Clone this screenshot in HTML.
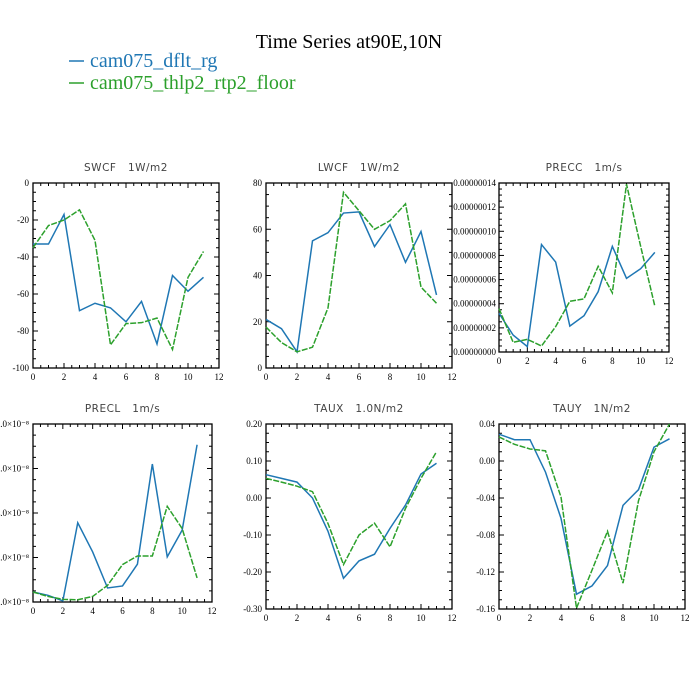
<!DOCTYPE html>
<html><head><meta charset="utf-8"><style>
html,body{margin:0;padding:0;background:#fff;}
svg{display:block;}
.tk{font-family:"Liberation Serif",serif;font-size:9px;fill:#000;}
.pt{font-family:"DejaVu Sans","Liberation Sans",sans-serif;font-size:10.5px;fill:#444;letter-spacing:0.5px;white-space:pre;}
</style></head><body>
<svg id="chart" width="700" height="700" viewBox="0 0 700 700">
<text x="349" y="48" text-anchor="middle" font-family="Liberation Serif,serif" font-size="20" fill="#000">Time Series at90E,10N</text>
<g>
<line x1="69" y1="61" x2="84" y2="61" stroke="#1f77b4" stroke-width="1.5"/>
<text x="90" y="67" font-family="Liberation Serif,serif" font-size="20" fill="#1f77b4">cam075_dflt_rg</text>
<line x1="69" y1="83" x2="84" y2="83" stroke="#2ca02c" stroke-width="1.5"/>
<text x="90" y="89" font-family="Liberation Serif,serif" font-size="20" fill="#2ca02c">cam075_thlp2_rtp2_floor</text>
</g>
<g id="panels"></g>
</svg>
<script>
const months = [0,1,2,3,4,5,6,7,8,9,10,11];
const xTicks = [0,2,4,6,8,10,12];
const swcfDflt = [-33,-33,-17,-69,-65,-67.5,-75,-64,-87,-50,-58.5,-51];
const swcfThlp = [-35,-23,-20,-14.5,-31,-87.5,-76,-75.5,-73,-90,-51,-37];
const swcfTicks = [-100,-80,-60,-40,-20,0];
const lwcfDflt = [21,17,7,55,58.5,67,67.5,52.5,62,45.7,59,31.6];
const lwcfThlp = [17.7,11,7,9,26,76,68,60,63.7,71,35,28];
const lwcfTicks = [0,20,40,60,80];
const preccDflt = [3.2,1.4,0.45,8.9,7.45,2.15,3.0,5.0,8.75,6.1,6.9,8.25];
const preccThlp = [3.6,0.8,1.05,0.5,2.1,4.2,4.4,7.1,4.9,13.9,8.75,3.8];
const preccTicks = [0,2,4,6,8,10,12,14];
const preccTickLabels = ["0.00000000","0.00000002","0.00000004","0.00000006","0.00000008","0.00000010","0.00000012","0.00000014"];
const preclDflt = [0.45,0.3,0.05,3.56,2.25,0.63,0.72,1.7,6.2,2.03,3.23,7.07];
const preclThlp = [0.45,0.25,0.12,0.1,0.25,0.75,1.68,2.07,2.07,4.3,3.3,1.08];
const preclTicks = [0,2,4,6,8];
const preclTickLabels = ["0.0×10⁻⁸","2.0×10⁻⁸","4.0×10⁻⁸","6.0×10⁻⁸","8.0×10⁻⁸"];
const tauxDflt = [0.063,0.053,0.043,0.0,-0.09,-0.217,-0.17,-0.152,-0.082,-0.019,0.065,0.094];
const tauxThlp = [0.053,0.043,0.032,0.017,-0.069,-0.18,-0.1,-0.068,-0.132,-0.028,0.053,0.125];
const tauxTicks = [-0.3,-0.2,-0.1,0,0.1,0.2];
const tauxTickLabels = ["-0.30","-0.20","-0.10","0.00","0.10","0.20"];
const tauyDflt = [0.029,0.023,0.023,-0.012,-0.062,-0.144,-0.135,-0.113,-0.048,-0.031,0.015,0.024];
const tauyThlp = [0.026,0.018,0.013,0.011,-0.039,-0.159,-0.118,-0.076,-0.132,-0.043,0.010,0.04];
const tauyTicks = [-0.16,-0.12,-0.08,-0.04,0,0.04];
const tauyTickLabels = ["-0.16","-0.12","-0.08","-0.04","0.00","0.04"];

const NS='http://www.w3.org/2000/svg';
const root=document.getElementById('panels');
function mk(tag,attrs,parent){const e=document.createElementNS(NS,tag);for(const k in attrs)e.setAttribute(k,attrs[k]);parent.appendChild(e);return e;}

const panels=[
 {key:'swcf',title:'SWCF   1W/m2',x0:33,x1:219,y0:183,y1:368,ymin:-100,ymax:0,yt:swcfTicks,yl:swcfTicks.map(String),a:swcfDflt,b:swcfThlp,lab:'left'},
 {key:'lwcf',title:'LWCF   1W/m2',x0:266,x1:452,y0:183,y1:368,ymin:0,ymax:80,yt:lwcfTicks,yl:lwcfTicks.map(String),a:lwcfDflt,b:lwcfThlp,lab:'left'},
 {key:'precc',title:'PRECC   1m/s',x0:499,x1:669,y0:183,y1:352,ymin:0,ymax:14,yt:preccTicks,yl:preccTickLabels,a:preccDflt,b:preccThlp,lab:'small'},
 {key:'precl',title:'PRECL   1m/s',x0:33,x1:212,y0:424,y1:602,ymin:0,ymax:8,yt:preclTicks,yl:preclTickLabels,a:preclDflt,b:preclThlp,lab:'left'},
 {key:'taux',title:'TAUX   1.0N/m2',x0:266,x1:452,y0:424,y1:609,ymin:-0.3,ymax:0.2,yt:tauxTicks,yl:tauxTickLabels,a:tauxDflt,b:tauxThlp,lab:'left'},
 {key:'tauy',title:'TAUY   1N/m2',x0:499,x1:685,y0:424,y1:609,ymin:-0.16,ymax:0.04,yt:tauyTicks,yl:tauyTickLabels,a:tauyDflt,b:tauyThlp,lab:'left'}
];

panels.forEach(p=>{
 const g=mk('g',{},root);
 
 
 const xs=v=>p.x0+(v-0)/(12-0)*(p.x1-p.x0);
 const ys=v=>p.y1-(v-p.ymin)/(p.ymax-p.ymin)*(p.y1-p.y0);
 const t=mk('text',{x:(p.x0+p.x1)/2,y:p.y0-12,'text-anchor':'middle',class:'pt'},g);
 
 
 t.textContent=p.title;
 for(let v=0;v<=12;v+=0.5){
  const major=(v%2===0);const L=major?5:3;
  mk('line',{x1:xs(v),x2:xs(v),y1:p.y1,y2:p.y1-L,stroke:'#000','stroke-width':1},g);
  mk('line',{x1:xs(v),x2:xs(v),y1:p.y0,y2:p.y0+L,stroke:'#000','stroke-width':1},g);
 }
 xTicks.forEach(v=>{const tx=mk('text',{x:xs(v),y:p.y1+12,'text-anchor':'middle',class:'tk'},g);
  
  
  tx.textContent=String(v);});
 const step=p.yt[1]-p.yt[0];
 for(let i=0;i<p.yt.length;i++){
  const v=p.yt[i];
  mk('line',{x1:p.x0,x2:p.x0+5,y1:ys(v),y2:ys(v),stroke:'#000','stroke-width':1},g);
  mk('line',{x1:p.x1,x2:p.x1-5,y1:ys(v),y2:ys(v),stroke:'#000','stroke-width':1},g);
  if(i<p.yt.length-1){for(let k=1;k<4;k++){const m=v+step*k/4;
   mk('line',{x1:p.x0,x2:p.x0+3,y1:ys(m),y2:ys(m),stroke:'#000','stroke-width':1},g);
   mk('line',{x1:p.x1,x2:p.x1-3,y1:ys(m),y2:ys(m),stroke:'#000','stroke-width':1},g);}}
  const ty=mk('text',{x:p.lab==='small'?p.x0-3:p.x0-4,y:ys(v)+3,'text-anchor':'end',class:'tk'},g);
  if(p.lab==='small')ty.setAttribute('font-size','8');
  
  
  ty.textContent=p.yl[i];
 }
 const fr=mk('rect',{x:p.x0,y:p.y0,width:p.x1-p.x0,height:p.y1-p.y0,fill:'none',stroke:'#000','stroke-width':1.3},g);
 
 
 const la=mk('polyline',{points:months.map((m,i)=>xs(m)+','+ys(p.a[i])).join(' '),fill:'none',stroke:'#1f77b4','stroke-width':1.5},g);
 
 
 const lb=mk('polyline',{points:months.map((m,i)=>xs(m)+','+ys(p.b[i])).join(' '),fill:'none',stroke:'#2ca02c','stroke-width':1.5,'stroke-dasharray':'6,1.5'},g);
 
 
});
</script>
</body></html>
